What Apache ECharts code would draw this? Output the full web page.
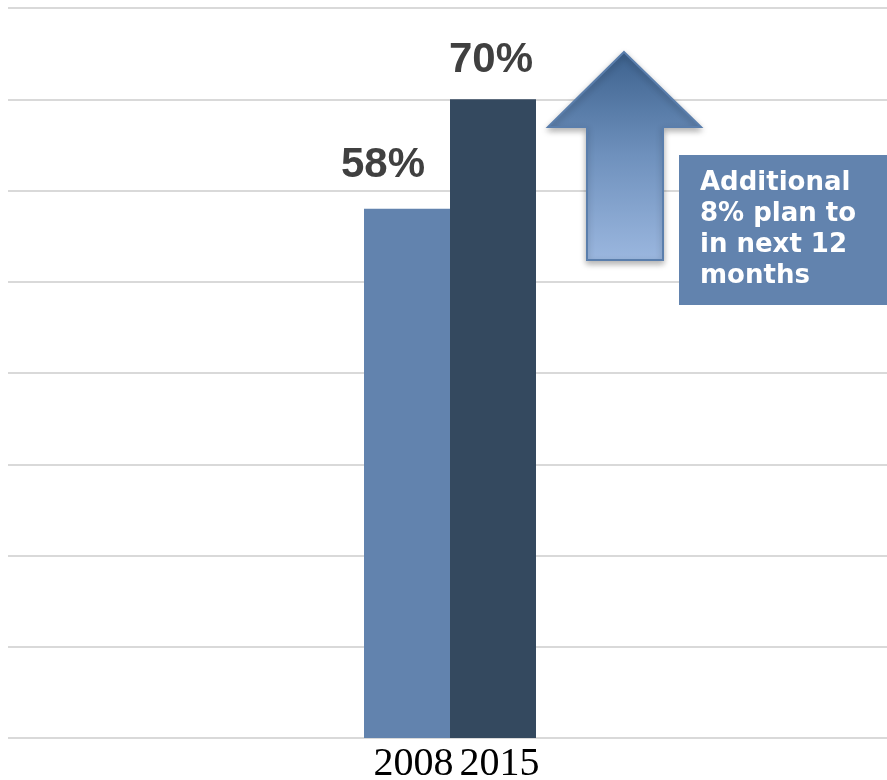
<!DOCTYPE html>
<html>
<head>
<meta charset="utf-8">
<script src="https://cdn.jsdelivr.net/npm/echarts@6/dist/echarts.min.js"></script>
<style>
  html, body { margin: 0; padding: 0; background: #fff; }
  #main { width: 887px; height: 780px; }
</style>
</head>
<body>
<div id="main"></div>
<script>
// 数据
var years = ['2008', '2015'];
var shares = [58, 70];
var barColors = ['#6283ae', '#34495f'];
var labelShiftX = [-24, -2];
var labelShiftY = [-4, 0];
var noteText = ['Additional', '8% plan to', 'in next 12', 'months'];

(function () {
  var chartDom = document.getElementById('main');
  var myChart = echarts.init(chartDom);

  var barData = shares.map(function (v, i) {
    return {
      value: v,
      itemStyle: { color: barColors[i] },
      label: { offset: [labelShiftX[i], labelShiftY[i]] }
    };
  });

  var option = {
    animation: false,
    grid: [
      // 背景网格线
      { left: 8, right: 0, top: 8, bottom: 42, outerBoundsMode: 'none', containLabel: false },
      // 柱子
      { left: 364, right: 351, top: 8, bottom: 42, outerBoundsMode: 'none', containLabel: false }
    ],
    xAxis: [
      {
        gridIndex: 0,
        type: 'category',
        data: [''],
        show: false
      },
      {
        gridIndex: 1,
        type: 'category',
        data: years,
        axisTick: { show: false },
        axisLine: { show: false },
        axisLabel: {
          interval: 0,
          hideOverlap: false,
          color: '#000',
          fontFamily: 'Liberation Serif',
          fontSize: 40,
          margin: 6,
          // 标签略向右偏
          padding: [0, 0, 0, 13]
        }
      }
    ],
    yAxis: [
      {
        gridIndex: 0,
        type: 'value',
        min: 0,
        max: 80,
        interval: 10,
        axisLabel: { show: false },
        axisLine: { show: false },
        axisTick: { show: false },
        splitLine: {
          lineStyle: { color: '#d9d9d9', width: 2 }
        }
      },
      {
        gridIndex: 1,
        type: 'value',
        min: 0,
        max: 80,
        interval: 10,
        show: false,
        splitLine: { show: false }
      }
    ],
    series: [
      {
        type: 'bar',
        xAxisIndex: 1,
        yAxisIndex: 1,
        barWidth: '100%',
        barCategoryGap: 0,
        data: barData,
        label: {
          show: true,
          position: 'top',
          distance: 18,
          formatter: '{c}%',
          color: '#404040',
          fontFamily: 'Liberation Sans',
          fontWeight: 'bold',
          fontSize: 42
        }
      }
    ],
    graphic: [
      // 向上箭头
      {
        type: 'polygon',
        z: 100,
        shape: {
          points: [[624, 52], [701, 127], [663, 127], [663, 260], [587, 260], [587, 127], [548, 127]]
        },
        style: {
          fill: {
            type: 'linear', x: 0, y: 0, x2: 0, y2: 1,
            colorStops: [
              { offset: 0, color: '#3c618d' },
              { offset: 0.5, color: '#6f91bd' },
              { offset: 1, color: '#9bb7df' }
            ]
          },
          stroke: '#5a7eac',
          lineWidth: 2,
          shadowBlur: 6,
          shadowOffsetY: 3,
          shadowColor: 'rgba(0,0,0,0.3)'
        }
      },
      // 说明框
      {
        type: 'rect',
        z: 100,
        shape: { x: 679, y: 155, width: 208, height: 150 },
        style: { fill: '#6283ae' }
      },
      {
        type: 'text',
        z: 101,
        x: 700,
        y: 168,
        style: {
          text: noteText.join('\n'),
          fill: '#fff',
          fontFamily: 'DejaVu Sans',
          fontWeight: 'bold',
          fontSize: 26,
          lineHeight: 31
        }
      }
    ]
  };

  option && myChart.setOption(option);
  window.addEventListener('resize', function () {
    myChart.resize();
  });
})();
</script>
</body>
</html>
